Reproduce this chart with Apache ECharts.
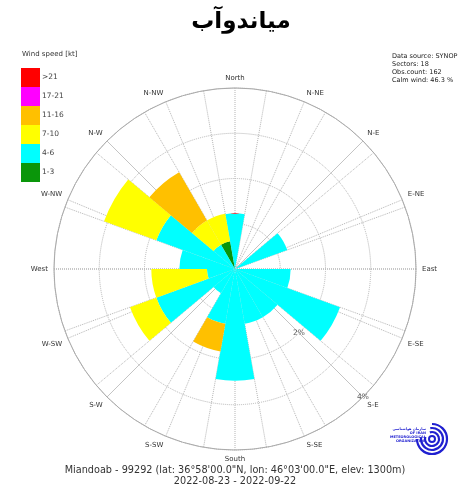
<!DOCTYPE html>
<html lang="en" style="height: 100%">
<head>
  <meta charset="utf-8">
</head>
<body style="height: 100%; margin: 0; background: #fff">
  <div id="container" style="width: 458px; height: 496px"></div>

  <script type="text/javascript" src="https://cdn.jsdelivr.net/npm/echarts@6/dist/echarts.min.js"></script>

  <script type="text/javascript">
    // 18 sectors of 20 degrees, percent of all observations
    var sectors = ['0', '20', '40', '60', '80', '100', '120', '140', '160',
                   '180', '200', '220', '240', '260', '280', '300', '320', '340'];
    var speed1to3   = [0, 0, 0, 0, 0, 0, 0, 0, 0, 0, 0, 0, 0, 0, 0, 0, 0, 0.62];
    var speed4to6   = [1.23, 0, 0, 1.23, 0, 1.23, 2.47, 1.23, 1.23, 2.47, 1.23, 0.62, 1.85, 0.62, 1.23, 1.85, 0.62, 0];
    var speed7to10  = [0, 0, 0, 0, 0, 0, 0, 0, 0, 0, 0, 0, 0.62, 1.23, 0, 1.23, 0.62, 0.62];
    var speed11to16 = [0, 0, 0, 0, 0, 0, 0, 0, 0, 0, 0.62, 0, 0, 0, 0, 0, 1.23, 0];
    var speed17to21 = [0, 0, 0, 0, 0, 0, 0, 0, 0, 0, 0, 0, 0, 0, 0, 0, 0, 0];
    var speedOver21 = [0, 0, 0, 0, 0, 0, 0, 0, 0, 0, 0, 0, 0, 0, 0, 0, 0, 0];

    var directions = ['North', 'N-NE', 'N-E', 'E-NE', 'East', 'E-SE', 'S-E', 'S-SE',
                      'South', 'S-SW', 'S-W', 'W-SW', 'West', 'W-NW', 'N-W', 'N-NW'];
    var ringLabels = [[2, 135, '2%'], [4, 135, '4%']];
    var diagonals = [45, 135, 225, 315];

    var dom = document.getElementById('container');
    var myChart = echarts.init(dom, null, { renderer: 'canvas' });

    var center = [235, 269];
    var radius = 181;
    var txt = '#333';
    var fam = 'DejaVu Sans, sans-serif';

    function speedSeries(name, data, color) {
      return {
        name: name,
        type: 'bar',
        coordinateSystem: 'polar',
        polarIndex: 0,
        stack: 'wind',
        barCategoryGap: '0%',
        itemStyle: { color: color, borderWidth: 0 },
        emphasis: { disabled: true },
        data: data,
        z: 3
      };
    }

    var series = [
      speedSeries('1-3', speed1to3, '#0a960a'),
      speedSeries('4-6', speed4to6, '#00ffff'),
      speedSeries('7-10', speed7to10, '#ffff00'),
      speedSeries('11-16', speed11to16, '#ffc000'),
      speedSeries('17-21', speed17to21, '#ff00ff'),
      speedSeries('>21', speedOver21, '#ff0000')
    ];

    diagonals.forEach(function (a) {
      series.push({
        type: 'line',
        coordinateSystem: 'polar',
        polarIndex: 1,
        symbol: 'none',
        silent: true,
        lineStyle: { color: '#c4c4c4', width: 1 },
        data: [[0, a], [4, a]],
        z: 1
      });
    });

    series.push({
      type: 'scatter',
      coordinateSystem: 'polar',
      polarIndex: 1,
      symbolSize: 1,
      silent: true,
      itemStyle: { color: 'transparent' },
      label: {
        show: true,
        position: 'inside',
        formatter: function (p) { return p.data[2]; },
        color: txt,
        fontSize: 7.5,
        fontFamily: fam
      },
      data: ringLabels,
      z: 4
    });

    var option = {
      animation: false,
      backgroundColor: '#fff',
      title: {
        text: 'میاندوآب',
        left: 236,
        textAlign: 'center',
        top: 6,
        textStyle: { fontFamily: 'DejaVu Sans', fontWeight: 'bold', fontSize: 23, color: '#000' }
      },
      legend: {
        orient: 'vertical',
        left: 21,
        top: 68,
        padding: 0,
        itemWidth: 19,
        itemHeight: 19,
        itemGap: 0,
        icon: 'rect',
        selectedMode: false,
        data: ['>21', '17-21', '11-16', '7-10', '4-6', '1-3'],
        textStyle: { fontSize: 7.5, color: '#444', fontFamily: fam, padding: [0, 0, 0, -3] }
      },
      polar: [
        { center: center, radius: radius },
        { center: center, radius: radius }
      ],
      angleAxis: [
        {
          polarIndex: 0,
          type: 'category',
          data: sectors,
          startAngle: 100,
          clockwise: true,
          axisLine: { show: false },
          axisTick: { show: false },
          axisLabel: { show: false },
          splitLine: { show: true, lineStyle: { color: '#b5b5b5', type: 'dotted', width: 1 } }
        },
        {
          polarIndex: 1,
          type: 'value',
          min: 0,
          max: 360,
          interval: 22.5,
          startAngle: 90,
          clockwise: true,
          axisLine: { show: true, lineStyle: { color: '#aaa', width: 1 } },
          axisTick: { show: false },
          axisLabel: {
            margin: 6,
            fontSize: 7,
            color: txt,
            fontFamily: fam,
            formatter: function (v) { return directions[Math.round(v / 22.5) % 16]; }
          },
          splitLine: { show: true, lineStyle: { color: '#b5b5b5', type: 'dotted', width: 1 } }
        }
      ],
      radiusAxis: [
        {
          polarIndex: 0,
          min: 0,
          max: 4,
          axisLine: { show: false },
          axisTick: { show: false },
          axisLabel: { show: false },
          splitLine: { show: false }
        },
        {
          polarIndex: 1,
          min: 0,
          max: 4,
          interval: 1,
          axisLine: { show: false },
          axisTick: { show: false },
          axisLabel: { show: false },
          splitLine: { show: true, lineStyle: { color: '#b5b5b5', type: 'dotted', width: 1 } }
        }
      ],
      graphic: [
        {
          type: 'text', left: 22, top: 51,
          style: { text: 'Wind speed [kt]', fontSize: 7, fill: txt, fontFamily: fam }
        },
        {
          type: 'text', left: 392, top: 52,
          style: {
            text: 'Data source: SYNOP\nSectors: 18\nObs.count: 162\nCalm wind: 46.3 %',
            fontSize: 6.5, lineHeight: 8, fill: '#222', fontFamily: fam
          }
        },
        {
          type: 'text', x: 235, y: 465,
          style: {
            text: 'Miandoab - 99292 (lat: 36°58\'00.0"N, lon: 46°03\'00.0"E, elev: 1300m)\n2022-08-23 - 2022-09-22',
            fontSize: 9.7, lineHeight: 11, fill: txt, fontFamily: fam,
            align: 'center', verticalAlign: 'top'
          }
        },
        {
          type: 'group', x: 432, y: 439,
          children: [
            { type: 'arc', shape: { r: 3, startAngle: 0, endAngle: Math.PI * 2 }, style: { stroke: '#2020d0', lineWidth: 2, fill: null } },
            { type: 'arc', shape: { r: 7, startAngle: -Math.PI * 0.6, endAngle: Math.PI * 1.1 }, style: { stroke: '#2020d0', lineWidth: 2.2, fill: null } },
            { type: 'arc', shape: { r: 11, startAngle: -Math.PI * 0.55, endAngle: Math.PI * 1.05 }, style: { stroke: '#2020d0', lineWidth: 2.2, fill: null } },
            { type: 'arc', shape: { r: 15, startAngle: -Math.PI * 0.5, endAngle: Math.PI * 1.0 }, style: { stroke: '#2020d0', lineWidth: 2.2, fill: null } },
            {
              type: 'text', x: -6, y: -12,
              style: {
                text: 'سازمان هواشناسی\nOF IRAN\nMETEOROLOGICAL\nORGANIZATION',
                fontSize: 3.5, lineHeight: 4, fill: '#2020d0', fontFamily: fam,
                align: 'right', fontWeight: 'bold'
              }
            }
          ]
        }
      ],
      series: series
    };

    myChart.setOption(option);
    window.addEventListener('resize', myChart.resize);
  </script>
</body>
</html>
